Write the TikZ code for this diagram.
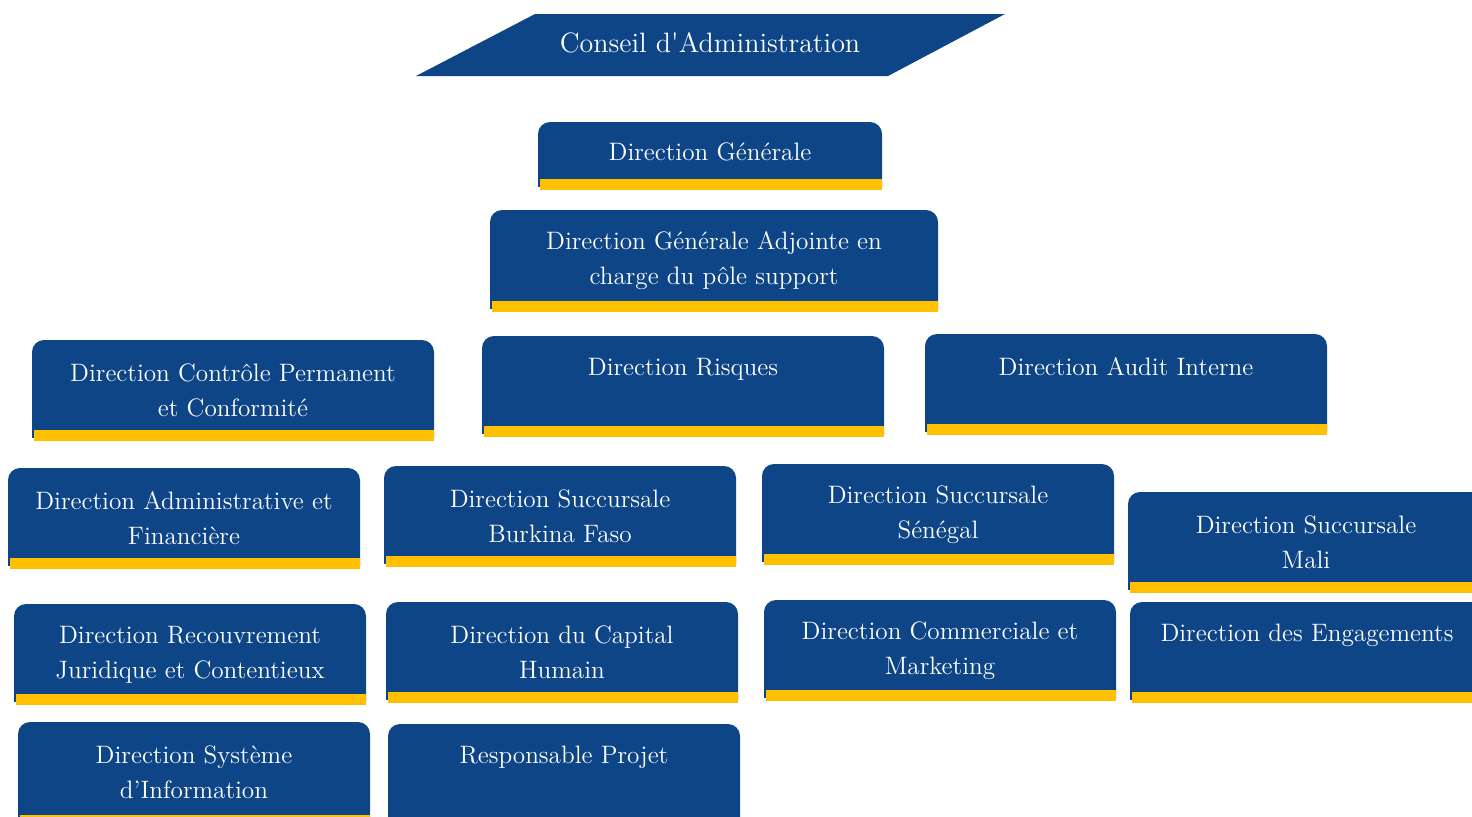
\documentclass[tikz,border=0pt]{standalone}
\usepackage{fontspec}
\usepackage{tikz}
\definecolor{navy}{RGB}{13,69,134}
\definecolor{gold}{RGB}{255,192,0}

\begin{document}
\begin{tikzpicture} [x=0.5pt, y=-0.5pt,
		dirtext/.style={text=white, align=center, inner sep=0pt, font=\fontsize{12.6}{17.5}\selectfont}]
		%\draw [help lines, step=50] (0,0) grid (1472,816);
		\useasboundingbox (0,0) rectangle (1472,816);
		\fill[navy] (535,14) -- (1005,14) -- (888,76) -- (416,76) -- cycle;
		\node[dirtext, font=\fontsize{14}{17.5}\selectfont] (ca) at (710,43) {Conseil d\textquotesingle Administration};
		\foreach \nm/\xa/\ya/\xb/\yb/\yt/\txt in {
			dg/538/122/882/190/152/{Direction Générale},
			dga/490/210/938/312/261/{Direction Générale Adjointe en\\charge du pôle support},
			dcpc/32/340/434/441/390.5/{Direction Contrôle Permanent\\et Conformité},
			dr/482/336/884/437/369/{Direction Risques},
			dai/925/334/1327/435/367/{Direction Audit Interne},
			daf/8/468/360/569/518.5/{Direction Administrative et\\Financière},
			dsbf/384/466/736/567/516.5/{Direction Succursale\\Burkina Faso},
			dss/762/464/1114/565/514.5/{Direction Succursale\\Sénégal},
			dsm/1128/492/1484/593/542.5/{Direction Succursale\\Mali},
			drjc/14/604/366/705/654.5/{Direction Recouvrement\\Juridique et Contentieux},
			dch/386/602/738/703/652.5/{Direction du Capital\\Humain},
			dcm/764/600/1116/701/650.5/{Direction Commerciale et\\Marketing},
			de/1130/602/1484/703/635/{Direction des Engagements},
			dsi/18/722/370/826/772.5/{Direction Système\\d’Information},
			rp/388/724/740/828/757/{Responsable Projet}}
		{
			\begin{scope}
				\clip (\xa-1,\ya-1) rectangle (\xb+1,\yb-4);
				\fill[navy, rounded corners=6pt] (\xa,\ya) rectangle (\xb,\yb+10);
			\end{scope}
			\fill[gold] (\xa+2,\yb-11) rectangle (\xb,\yb);
			\node[dirtext] (\nm) at ({(\xa+\xb)/2},\yt) {\txt};
		}
	\end{tikzpicture}
\end{document}
